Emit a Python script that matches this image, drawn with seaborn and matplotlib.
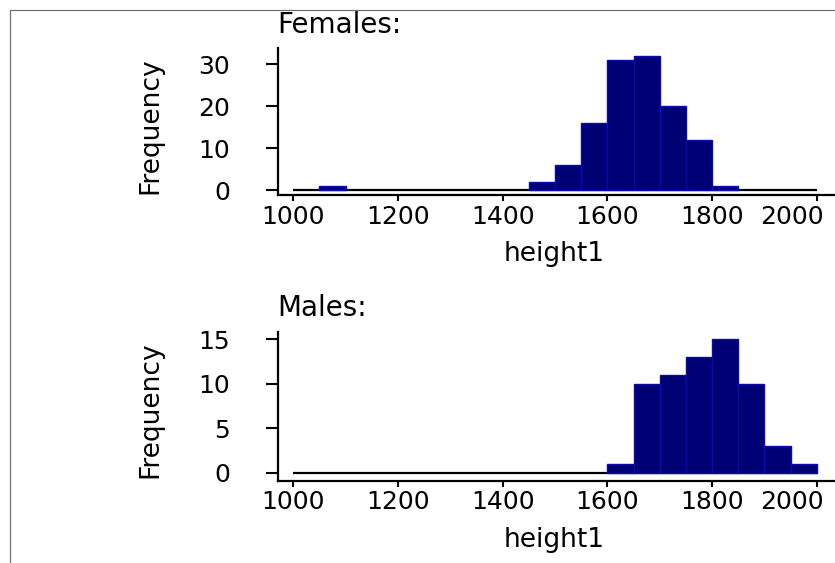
import matplotlib
matplotlib.use("Agg")
import matplotlib.pyplot as plt
from matplotlib.lines import Line2D
import seaborn as sns

# Histogram bins (width 50) and counts per group
bin_edges = [1000 + 50 * i for i in range(21)]
female_bin_starts = [1050, 1450, 1500, 1550, 1600, 1650, 1700, 1750, 1800]
female_counts = [1, 2, 6, 16, 31, 32, 20, 12, 1]
male_bin_starts = [1600, 1650, 1700, 1750, 1800, 1850, 1900, 1950]
male_counts = [1, 10, 11, 13, 15, 10, 3, 1]

x_ticks = [1000, 1200, 1400, 1600, 1800, 2000]
female_yticks = [0, 10, 20, 30]
male_yticks = [0, 5, 10, 15]

sns.set_style("ticks")
plt.rcParams["font.family"] = ["DejaVu Sans"]
plt.rcParams.update({
    "text.color": "black", "axes.labelcolor": "black",
    "xtick.color": "black", "ytick.color": "black",
    "xtick.labelcolor": "black", "ytick.labelcolor": "black",
    "xtick.direction": "out", "ytick.direction": "out",
    "xtick.major.size": 4.5, "ytick.major.size": 9,
    "xtick.major.width": 1.5, "ytick.major.width": 1.5,
    "xtick.major.pad": 2, "ytick.major.pad": 25,
    "xtick.labelsize": 18, "ytick.labelsize": 18,
})

W, H = 835, 563
DPI = 100
fig = plt.figure(figsize=(W / DPI, H / DPI), dpi=DPI)

BAR_FILL = "#000074"
BAR_EDGE = "#0a0ab0"


def px_axes(left, top, right, bottom):
    return fig.add_axes([left / W, 1 - bottom / H, (right - left) / W, (bottom - top) / H])


def draw_panel(ax, starts, counts, title, yticks, ylim):
    centers = [s + 25 for s in starts]
    ax.hlines(0, bin_edges[0], bin_edges[-1], color="black", lw=1.6, zorder=1)
    sns.histplot(x=centers, weights=counts, bins=bin_edges, ax=ax,
                 color=BAR_FILL, edgecolor=BAR_EDGE, linewidth=1.0,
                 alpha=1.0, zorder=2)
    for p in ax.patches:
        if p.get_height() == 0:
            p.set_visible(False)
    ax.set_xlim(969.8, 2035)
    ax.set_ylim(*ylim)
    ax.set_yticks(yticks)
    # last x label is set in from the right edge, the others sit under their ticks
    ax.set_xticks(x_ticks, [str(v) for v in x_ticks[:-1]] + [""])
    tick_drop_px = (4.5 + 2) * DPI / 72
    ax.annotate(str(x_ticks[-1]), xy=(x_ticks[-1], 0), xycoords=("data", "axes fraction"),
                xytext=(-25, -tick_drop_px), textcoords="offset pixels",
                ha="center", va="top", fontsize=18, annotation_clip=False)
    for s in ("top", "right"):
        ax.spines[s].set_visible(False)
    for s in ("left", "bottom"):
        ax.spines[s].set_linewidth(1.6)
        ax.spines[s].set_color("black")
    ax.set_xlabel("height1", fontsize=19)
    ax.set_ylabel("Frequency", fontsize=19)
    ax.xaxis.set_label_coords(0.4955, -0.31)
    ax.yaxis.set_label_coords(-0.205, 0.476)
    ax.set_title(title, loc="left", fontsize=20, pad=11)


ax_f = px_axes(277.5, 48, 835, 195.5)
draw_panel(ax_f, female_bin_starts, female_counts, "Females:", female_yticks, (-1.19, 33.8))

ax_m = px_axes(277.5, 331.7, 835, 481)
draw_panel(ax_m, male_bin_starts, male_counts, "Males:", male_yticks, (-0.9, 15.85))

# thin outer frame along the left and top edges
fx, fy = 9.5 / W, 1 - 10 / H
fig.add_artist(Line2D([fx, fx, 1.0], [0.0, fy, fy], transform=fig.transFigure,
                      color="#707070", lw=0.9))

fig.savefig("out.png", dpi=DPI, facecolor="white")
